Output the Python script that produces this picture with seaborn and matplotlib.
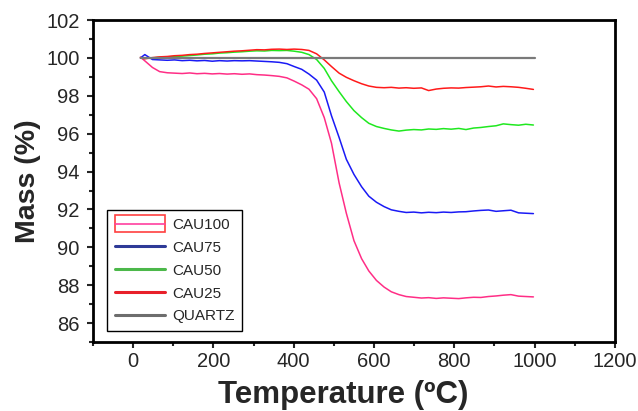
import matplotlib
matplotlib.use("Agg")
import matplotlib.pyplot as plt
import matplotlib.patches as mpatches
from matplotlib.lines import Line2D
from matplotlib.legend_handler import HandlerPatch, HandlerTuple
from matplotlib.ticker import MultipleLocator
import pandas as pd
import seaborn as sns

sns.set_style("ticks")
plt.rcParams['font.family'] = ['Liberation Sans', 'DejaVu Sans']

# temperature readings (ºC) shared by the CAU samples
temperature = [18, 29, 48, 66, 85, 103, 122, 141, 159, 178, 197, 215, 234, 252,
               271, 290, 308, 327, 345, 364, 383, 401, 420, 438, 457, 476, 494,
               513, 531, 550, 569, 587, 606, 625, 643, 662, 680, 699, 718, 736,
               755, 773, 792, 811, 829, 848, 866, 885, 904, 922, 941, 960, 978, 997]

cau100 = [100.05, 99.85, 99.5, 99.28, 99.22, 99.2, 99.18, 99.21, 99.17, 99.19,
          99.16, 99.18, 99.15, 99.17, 99.14, 99.16, 99.12, 99.1, 99.07, 99.03,
          98.95, 98.78, 98.58, 98.35, 97.85, 96.85, 95.5, 93.4, 91.8, 90.35,
          89.4, 88.75, 88.25, 87.9, 87.65, 87.5, 87.4, 87.36, 87.32, 87.34,
          87.3, 87.33, 87.31, 87.29, 87.33, 87.36, 87.35, 87.4, 87.43, 87.47,
          87.5, 87.42, 87.4, 87.38]

cau75 = [100.0, 100.18, 99.92, 99.9, 99.88, 99.9, 99.86, 99.88, 99.85, 99.87,
         99.83, 99.86, 99.84, 99.86, 99.85, 99.86, 99.84, 99.82, 99.8, 99.77,
         99.7, 99.55, 99.4, 99.15, 98.83, 98.2, 96.95, 95.8, 94.65, 93.85,
         93.2, 92.7, 92.38, 92.15, 91.98, 91.9, 91.84, 91.86, 91.82, 91.85,
         91.83, 91.86, 91.84, 91.87, 91.88, 91.92, 91.95, 91.97, 91.9, 91.93,
         91.96, 91.82, 91.8, 91.78]

cau50 = [100.02, 99.98, 100.0, 100.04, 100.06, 100.08, 100.1, 100.13, 100.16, 100.2,
         100.22, 100.26, 100.28, 100.31, 100.33, 100.36, 100.38, 100.37, 100.4, 100.39,
         100.4, 100.36, 100.3, 100.18, 99.92, 99.45, 98.8, 98.22, 97.7, 97.22,
         96.85, 96.55, 96.38, 96.28, 96.2, 96.14, 96.19, 96.22, 96.2, 96.25,
         96.23, 96.27, 96.24, 96.28, 96.22, 96.3, 96.33, 96.38, 96.42, 96.52,
         96.48, 96.45, 96.5, 96.46]

cau25 = [100.0, 99.96, 100.02, 100.06, 100.08, 100.12, 100.14, 100.18, 100.2, 100.24,
         100.27, 100.3, 100.33, 100.36, 100.38, 100.41, 100.44, 100.43, 100.46, 100.47,
         100.45, 100.47, 100.45, 100.4, 100.22, 99.9, 99.55, 99.2, 98.98, 98.8,
         98.64, 98.52, 98.45, 98.43, 98.45, 98.41, 98.43, 98.4, 98.42, 98.28,
         98.36, 98.4, 98.42, 98.41, 98.44, 98.46, 98.48, 98.52, 98.47, 98.5,
         98.48, 98.45, 98.4, 98.34]

quartz_temp = [20, 1000]
quartz_mass = [100.0, 100.0]

samples = ["CAU100", "CAU75", "CAU50", "CAU25", "QUARTZ"]
line_colors = {"CAU100": "#FF2E86", "CAU75": "#1A1AF5", "CAU50": "#1FE81F",
               "CAU25": "#FF1A1A"}
legend_colors = {"CAU75": "#2E3A97", "CAU50": "#4CB84A", "CAU25": "#E8202A",
                 "QUARTZ": "#6D6D6D"}

frames = []
for name, vals in zip(samples[:4], [cau100, cau75, cau50, cau25]):
    frames.append(pd.DataFrame({"Temperature": temperature, "Mass": vals, "Sample": name}))
df = pd.concat(frames, ignore_index=True)
df_quartz = pd.DataFrame({"Temperature": quartz_temp, "Mass": quartz_mass})

fig = plt.figure(figsize=(6.38, 4.11), dpi=100)
ax = fig.add_axes([0.1458, 0.168, 0.818, 0.783])

sns.lineplot(data=df, x="Temperature", y="Mass", hue="Sample", hue_order=samples[:4],
             palette=line_colors, linewidth=1.1, sort=False, estimator=None,
             legend=False, ax=ax)
sns.lineplot(data=df_quartz, x="Temperature", y="Mass", color="#7A7A7A",
             linewidth=1.6, ax=ax)

ax.set_xlim(-100, 1200)
ax.set_ylim(85, 102)
ax.xaxis.set_major_locator(MultipleLocator(200))
ax.xaxis.set_minor_locator(MultipleLocator(100))
ax.yaxis.set_major_locator(MultipleLocator(2))
ax.yaxis.set_minor_locator(MultipleLocator(1))
ax.tick_params(which='major', length=4.5, width=1.5, labelsize=14.5, direction='out',
               top=False, right=False)
ax.tick_params(axis='x', which='major', pad=3)
ax.tick_params(axis='y', which='major', pad=5)
ax.tick_params(which='minor', length=3, width=1.5, direction='out', top=False, right=False)
for side in ['top', 'bottom', 'left', 'right']:
    ax.spines[side].set_linewidth(2.0)
    ax.spines[side].set_color('black')

ax.set_xlabel("Temperature (ºC)", fontsize=22.5, fontweight='bold', labelpad=5)
ax.xaxis.set_label_coords(0.479, -0.118, transform=ax.transAxes)
ax.xaxis.label.set_va('top')
ax.set_ylabel("Mass (%)", fontsize=20.5, fontweight='bold', labelpad=4)

# legend: CAU100 shown as an outlined box with the pink trace through it
box = mpatches.Rectangle((0, 0), 1, 1, facecolor='white', edgecolor='#FF4040', linewidth=1.2)
pink = Line2D([], [], color='#FF3FA0', linewidth=1.2)


def tall_box(legend, orig_handle, xdescent, ydescent, width, height, fontsize):
    return mpatches.Rectangle((-xdescent, -ydescent - 0.3 * height), width, 1.6 * height)


handles = [(box, pink)] + [Line2D([], [], color=legend_colors[s], linewidth=2.2) for s in samples[1:]]
leg = ax.legend(handles, samples, loc='lower left', bbox_to_anchor=(0.027, 0.034),
                fontsize=11, frameon=True, fancybox=False, framealpha=1,
                edgecolor='black', handlelength=3.3, handletextpad=0.45,
                labelspacing=0.58, borderpad=0.5, borderaxespad=0,
                handler_map={box: HandlerPatch(patch_func=tall_box),
                             tuple: HandlerTuple(ndivide=1, pad=0)})
leg.get_frame().set_linewidth(1.0)

fig.savefig("out.png", dpi=100)
